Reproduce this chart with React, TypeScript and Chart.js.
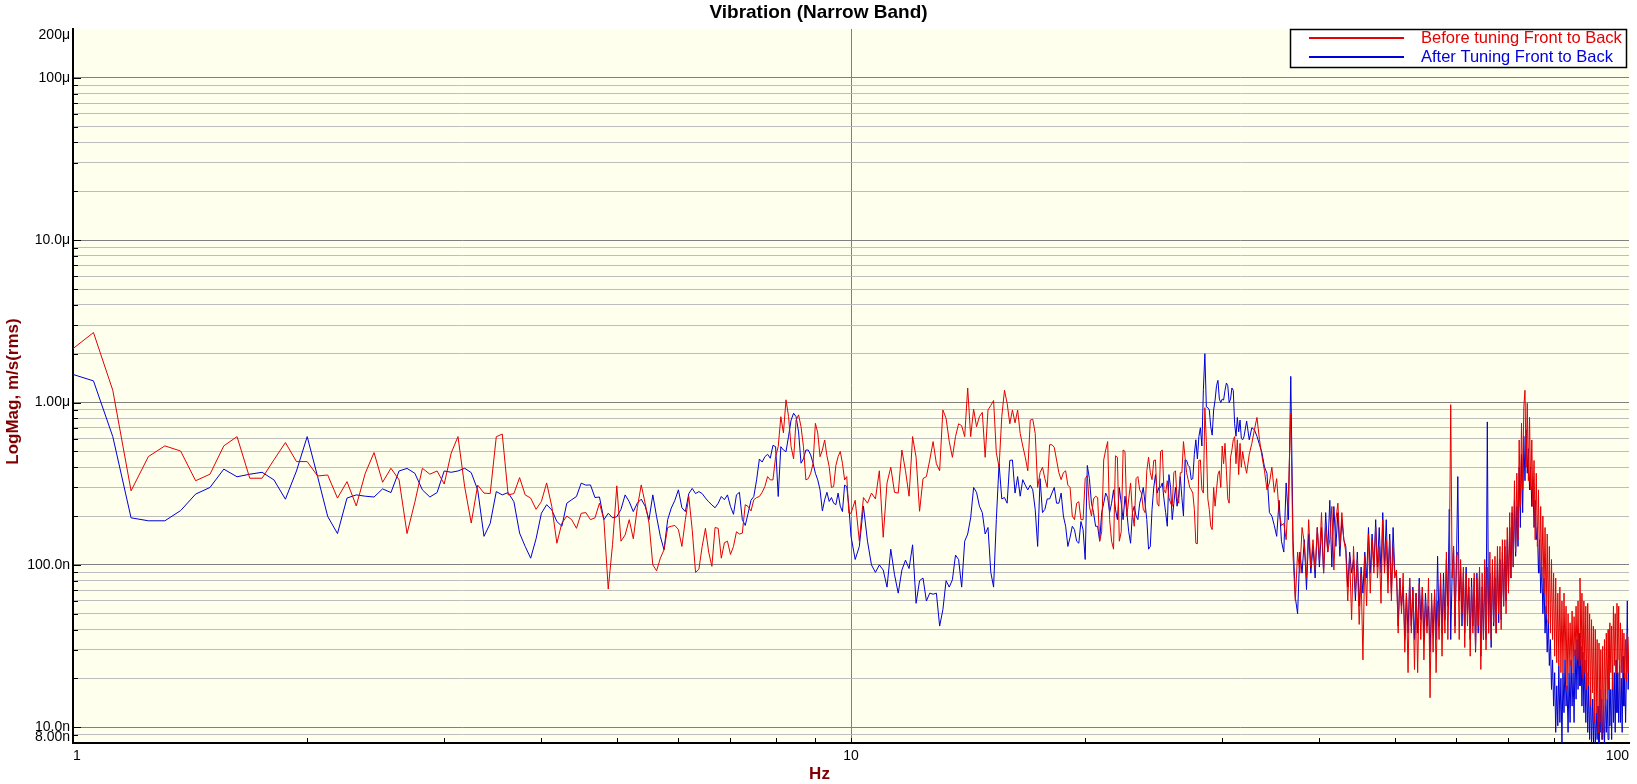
import React, { useEffect, useRef } from "react";
import { Chart, registerables } from "chart.js";

Chart.register(...registerables);

const FONT = '"Liberation Sans", Arial, Helvetica, sans-serif';

const TITLE = "Vibration (Narrow Band)";
const X_TITLE = "Hz";
const Y_TITLE = "LogMag, m/s(rms)";
const seriesNames = ["Before tuning Front to Back", "After Tuning Front to Back"];
const seriesColors = ["#E60000", "#0000D8"];

// tick labels (values in µm/s)
const xTickValues = [1, 10, 100];
const xTickLabels = ["1", "10", "100"];
const yTickValues = [200, 100, 10, 1, 0.1, 0.01, 0.008];
const yTickLabels = ["200μ", "100μ", "10.0μ", "1.00μ", "100.0n", "10.0n", "8.00n"];

// frequencies (Hz)
const freqA = [
  1, 1.0625, 1.125, 1.1875, 1.25, 1.3125, 1.375, 1.4375, 1.5, 1.5625,
  1.625, 1.6875, 1.75, 1.8125, 1.875, 1.9375, 2, 2.0625, 2.125, 2.1875,
  2.25, 2.3125, 2.375, 2.4375, 2.5, 2.5625, 2.625, 2.6875, 2.75, 2.8125,
  2.875, 2.9375, 3, 3.0625, 3.125, 3.1875, 3.25,
];
const freqB = [
  3.3125, 3.375, 3.4375, 3.5, 3.5625, 3.625, 3.6875, 3.75,
  3.8125, 3.875, 3.9375, 4, 4.0625, 4.125, 4.1875, 4.25,
  4.3125, 4.375, 4.4375, 4.5, 4.5625, 4.625, 4.6875, 4.75,
  4.8125, 4.875, 4.9375, 5, 5.0625, 5.125, 5.1875, 5.25,
  5.3125, 5.375, 5.4375, 5.5, 5.5625, 5.625, 5.6875, 5.75,
  5.8125, 5.875, 5.9375, 6, 6.0625, 6.125, 6.1875, 6.25,
  6.3125, 6.375, 6.4375, 6.5, 6.5625, 6.625, 6.6875, 6.75,
  6.8125, 6.875, 6.9375, 7, 7.0625, 7.125, 7.1875, 7.25,
  7.3125, 7.375, 7.4375, 7.5, 7.5625, 7.625, 7.6875, 7.75,
  7.8125, 7.875, 7.9375, 8, 8.0625, 8.125, 8.1875, 8.25,
  8.3125, 8.375, 8.4375, 8.5, 8.5625, 8.625, 8.6875, 8.75,
  8.8125, 8.875, 8.9375, 9, 9.0625, 9.125, 9.1875, 9.25,
  9.3125, 9.375, 9.4375, 9.5, 9.5625, 9.625, 9.6875, 9.75,
  9.8125, 9.875, 9.9375, 10,
];
const freqC = [
  10.125, 10.25, 10.375, 10.5, 10.625, 10.75, 10.875, 11,
  11.125, 11.25, 11.375, 11.5, 11.625, 11.75, 11.875, 12,
  12.125, 12.25, 12.375, 12.5, 12.625, 12.75, 12.875, 13,
  13.125, 13.25, 13.375, 13.5, 13.625, 13.75, 13.875, 14,
  14.125, 14.25, 14.375, 14.5, 14.625, 14.75, 14.875, 15,
  15.125, 15.25, 15.375, 15.5, 15.625, 15.75, 15.875, 16,
  16.125, 16.25, 16.375, 16.5, 16.625, 16.75, 16.875, 17,
  17.125, 17.25, 17.375, 17.5, 17.625, 17.75, 17.875, 18,
  18.125, 18.25, 18.375, 18.5, 18.625, 18.75, 18.875, 19,
  19.125, 19.25, 19.375, 19.5, 19.625, 19.75, 19.875, 20,
  20.125, 20.25, 20.375, 20.5, 20.625, 20.75, 20.875, 21,
  21.125, 21.25, 21.375, 21.5, 21.625, 21.75, 21.875, 22,
  22.125, 22.25, 22.375, 22.5, 22.625, 22.75, 22.875, 23,
  23.125, 23.25, 23.375, 23.5, 23.625, 23.75, 23.875, 24,
  24.125, 24.25, 24.375, 24.5, 24.625, 24.75, 24.875, 25,
  25.125, 25.25, 25.375, 25.5, 25.625, 25.75, 25.875, 26,
  26.125, 26.25, 26.375, 26.5, 26.625, 26.75, 26.875, 27,
  27.125, 27.25, 27.375, 27.5, 27.625, 27.75, 27.875, 28,
  28.125, 28.25, 28.375, 28.5, 28.625, 28.75, 28.875, 29,
  29.125, 29.25, 29.375, 29.5, 29.625, 29.75, 29.875, 30,
  30.125, 30.25, 30.375, 30.5, 30.625, 30.75, 30.875, 31,
  31.125, 31.25, 31.375, 31.5, 31.625, 31.75, 31.875, 32,
];
const freqD = [
  32.25, 32.5, 32.75, 33, 33.25, 33.5, 33.75, 34,
  34.25, 34.5, 34.75, 35, 35.25, 35.5, 35.75, 36,
  36.25, 36.5, 36.75, 37, 37.25, 37.5, 37.75, 38,
  38.25, 38.5, 38.75, 39, 39.25, 39.5, 39.75, 40,
  40.25, 40.5, 40.75, 41, 41.25, 41.5, 41.75, 42,
  42.25, 42.5, 42.75, 43, 43.25, 43.5, 43.75, 44,
  44.25, 44.5, 44.75, 45, 45.25, 45.5, 45.75, 46,
  46.25, 46.5, 46.75, 47, 47.25, 47.5, 47.75, 48,
  48.25, 48.5, 48.75, 49, 49.25, 49.5, 49.75, 50,
  50.25, 50.5, 50.75, 51, 51.25, 51.5, 51.75, 52,
  52.25, 52.5, 52.75, 53, 53.25, 53.5, 53.75, 54,
  54.25, 54.5, 54.75, 55, 55.25, 55.5, 55.75, 56,
  56.25, 56.5, 56.75, 57, 57.25, 57.5, 57.75, 58,
  58.25, 58.5, 58.75, 59, 59.25, 59.5, 59.75, 60,
  60.25, 60.5, 60.75, 61, 61.25, 61.5, 61.75, 62,
  62.25, 62.5, 62.75, 63, 63.25, 63.5, 63.75, 64,
  64.25, 64.5, 64.75, 65, 65.25, 65.5, 65.75, 66,
  66.25, 66.5, 66.75, 67, 67.25, 67.5, 67.75, 68,
  68.25, 68.5, 68.75, 69, 69.25, 69.5, 69.75, 70,
  70.25, 70.5, 70.75, 71, 71.25, 71.5, 71.75, 72,
  72.25, 72.5, 72.75, 73, 73.25, 73.5, 73.75, 74,
  74.25, 74.5, 74.75, 75, 75.25, 75.5, 75.75, 76,
  76.25, 76.5, 76.75, 77, 77.25, 77.5, 77.75, 78,
  78.25, 78.5, 78.75, 79, 79.25, 79.5, 79.75, 80,
  80.25, 80.5, 80.75, 81, 81.25, 81.5, 81.75, 82,
  82.25, 82.5, 82.75, 83, 83.25, 83.5, 83.75, 84,
  84.25, 84.5, 84.75, 85, 85.25, 85.5, 85.75, 86,
  86.25, 86.5, 86.75, 87, 87.25, 87.5, 87.75, 88,
  88.25, 88.5, 88.75, 89, 89.25, 89.5, 89.75, 90,
  90.25, 90.5, 90.75, 91, 91.25, 91.5, 91.75, 92,
  92.25, 92.5, 92.75, 93, 93.25, 93.5, 93.75, 94,
  94.25, 94.5, 94.75, 95, 95.25, 95.5, 95.75, 96,
  96.25, 96.5, 96.75, 97, 97.25, 97.5, 97.75, 98,
  98.25, 98.5, 98.75, 99, 99.25, 99.5, 99.75, 100,
];

// "Before tuning" magnitudes (µm/s rms)
const redA = [
  2.15, 2.7, 1.19, 0.286, 0.465, 0.541, 0.503, 0.33, 0.362, 0.541,
  0.617, 0.342, 0.342, 0.444, 0.567, 0.433, 0.433, 0.353, 0.358, 0.258,
  0.326, 0.231, 0.367, 0.492, 0.323, 0.394, 0.334, 0.156, 0.243, 0.394,
  0.362, 0.379, 0.315, 0.488, 0.617, 0.303, 0.181,
];
const redB = [
  0.31, 0.277, 0.275, 0.616, 0.64, 0.27, 0.275, 0.345,
  0.27, 0.258, 0.22, 0.246, 0.32, 0.229, 0.136, 0.181,
  0.2, 0.19, 0.168, 0.208, 0.21, 0.19, 0.195, 0.24,
  0.19, 0.071, 0.134, 0.307, 0.14, 0.153, 0.19, 0.145,
  0.225, 0.311, 0.24, 0.181, 0.1, 0.092, 0.11, 0.124,
  0.17, 0.173, 0.175, 0.165, 0.13, 0.19, 0.264, 0.165,
  0.09, 0.094, 0.13, 0.168, 0.12, 0.098, 0.17, 0.168,
  0.11, 0.137, 0.14, 0.116, 0.13, 0.16, 0.155, 0.157,
  0.235, 0.229, 0.215, 0.252, 0.26, 0.264, 0.28, 0.304,
  0.35, 0.334, 0.334, 0.464, 0.535, 0.818, 0.65, 1.04,
  0.82, 0.535, 0.45, 0.78, 0.84, 0.71, 0.535, 0.334,
  0.34, 0.367, 0.42, 0.745, 0.65, 0.464, 0.51, 0.588,
  0.47, 0.403, 0.3, 0.304, 0.41, 0.464, 0.5, 0.423,
  0.334, 0.35, 0.208, 0.208,
];
const redC = [
  0.25, 0.14, 0.26, 0.24, 0.277, 0.255, 0.38, 0.148,
  0.32, 0.4, 0.28, 0.277, 0.51, 0.38, 0.265, 0.617,
  0.46, 0.214, 0.34, 0.35, 0.443, 0.575, 0.42, 0.38,
  0.9, 0.8, 0.575, 0.46, 0.617, 0.74, 0.72, 0.617,
  1.23, 0.617, 0.91, 0.71, 0.82, 0.87, 0.46, 0.9,
  0.96, 1.03, 0.49, 0.4, 0.82, 1.19, 0.99, 0.74,
  0.9, 0.75, 0.9, 0.645, 0.54, 0.46, 0.38, 0.78,
  0.79, 0.645, 0.3, 0.37, 0.4, 0.34, 0.3, 0.55,
  0.55, 0.53, 0.443, 0.37, 0.335, 0.37, 0.38, 0.31,
  0.3, 0.2, 0.19, 0.24, 0.245, 0.19, 0.19, 0.34,
  0.355, 0.23, 0.2, 0.255, 0.265, 0.26, 0.14, 0.16,
  0.443, 0.51, 0.575, 0.19, 0.14, 0.125, 0.47, 0.46,
  0.14, 0.16, 0.51, 0.5, 0.2, 0.255, 0.32, 0.209,
  0.173, 0.34, 0.35, 0.29, 0.277, 0.22, 0.21, 0.38,
  0.46, 0.37, 0.335, 0.44, 0.443, 0.24, 0.23, 0.5,
  0.51, 0.29, 0.277, 0.33, 0.26, 0.24, 0.23, 0.37,
  0.38, 0.255, 0.24, 0.37, 0.37, 0.575, 0.46, 0.37,
  0.335, 0.3, 0.29, 0.277, 0.22, 0.136, 0.135, 0.44,
  0.443, 0.29, 0.277, 0.93, 0.575, 0.255, 0.22, 0.173,
  0.165, 0.3, 0.23, 0.29, 0.36, 0.38, 0.3, 0.54,
  0.42, 0.561, 0.38, 0.255, 0.24, 0.46, 0.51, 0.59,
  0.617, 0.42, 0.59, 0.36, 0.561, 0.4, 0.5, 0.44,
];
const redD = [
  0.367, 0.48, 0.56, 0.68, 0.81, 0.59, 0.465, 0.38,
  0.29, 0.32, 0.4, 0.28, 0.34, 0.21, 0.175, 0.18,
  0.143, 0.28, 0.85, 0.113, 0.06, 0.12, 0.089, 0.17,
  0.137, 0.083, 0.19, 0.097, 0.143, 0.093, 0.17, 0.108,
  0.21, 0.089, 0.17, 0.12, 0.143, 0.229, 0.093, 0.19,
  0.24, 0.13, 0.21, 0.143, 0.12, 0.06, 0.113, 0.046,
  0.13, 0.067, 0.108, 0.043, 0.089, 0.026, 0.113, 0.056,
  0.155, 0.067, 0.143, 0.089, 0.17, 0.083, 0.13, 0.058,
  0.19, 0.089, 0.143, 0.067, 0.143, 0.06, 0.13, 0.083,
  0.093, 0.038, 0.083, 0.05, 0.089, 0.029, 0.067, 0.0217,
  0.083, 0.038, 0.0705, 0.0227, 0.067, 0.0217, 0.077, 0.0347,
  0.073, 0.026, 0.06, 0.038, 0.083, 0.0152, 0.067, 0.029,
  0.0705, 0.0217, 0.06, 0.0347, 0.089, 0.0274, 0.073, 0.038,
  0.12, 0.0347, 0.097, 0.97, 0.083, 0.13, 0.038, 0.113,
  0.12, 0.0347, 0.108, 0.05, 0.097, 0.031, 0.089, 0.042,
  0.083, 0.0274, 0.073, 0.038, 0.089, 0.03, 0.083, 0.042,
  0.097, 0.0227, 0.089, 0.0347, 0.108, 0.03, 0.097, 0.038,
  0.12, 0.0347, 0.108, 0.044, 0.113, 0.038, 0.13, 0.05,
  0.13, 0.04, 0.143, 0.0557, 0.143, 0.05, 0.17, 0.067,
  0.21, 0.083, 0.229, 0.097, 0.33, 0.12, 0.367, 0.143,
  0.588, 0.229, 0.745, 0.29, 0.94, 1.19, 0.4, 0.99,
  0.33, 0.81, 0.29, 0.588, 0.229, 0.44, 0.143, 0.367,
  0.13, 0.29, 0.089, 0.229, 0.083, 0.2, 0.067, 0.17,
  0.05, 0.155, 0.044, 0.13, 0.038, 0.108, 0.0347, 0.089,
  0.0274, 0.083, 0.025, 0.067, 0.024, 0.073, 0.0217, 0.06,
  0.0217, 0.067, 0.026, 0.0557, 0.0171, 0.05, 0.0217, 0.044,
  0.024, 0.052, 0.0217, 0.048, 0.0274, 0.0557, 0.026, 0.06,
  0.024, 0.083, 0.026, 0.067, 0.02, 0.06, 0.0217, 0.0557,
  0.0171, 0.058, 0.018, 0.05, 0.0135, 0.046, 0.0163, 0.042,
  0.0107, 0.04, 0.0123, 0.0347, 0.0093, 0.033, 0.0107, 0.03,
  0.0084, 0.0315, 0.0093, 0.0347, 0.0135, 0.038, 0.0149, 0.04,
  0.0171, 0.044, 0.0217, 0.042, 0.0171, 0.0557, 0.024, 0.05,
  0.0217, 0.058, 0.026, 0.0557, 0.0163, 0.044, 0.0217, 0.04,
  0.0217, 0.038, 0.02, 0.0347, 0.019, 0.038, 0.0217, 0.036,
];

// "After tuning" magnitudes (µm/s rms)
const blueA = [
  1.49, 1.36, 0.617, 0.195, 0.187, 0.187, 0.216, 0.273, 0.3, 0.389,
  0.349, 0.362, 0.372, 0.334, 0.254, 0.379, 0.617, 0.35, 0.199, 0.156,
  0.258, 0.27, 0.265, 0.262, 0.294, 0.279, 0.379, 0.393, 0.367, 0.29,
  0.262, 0.279, 0.379, 0.372, 0.379, 0.394, 0.37,
];
const blueB = [
  0.29, 0.15, 0.18, 0.283, 0.27, 0.279, 0.245, 0.157,
  0.13, 0.11, 0.145, 0.208, 0.235, 0.218, 0.185, 0.173,
  0.24, 0.252, 0.264, 0.319, 0.31, 0.311, 0.26, 0.262,
  0.19, 0.208, 0.195, 0.198, 0.22, 0.27, 0.245, 0.213,
  0.24, 0.254, 0.23, 0.19, 0.27, 0.198, 0.15, 0.124,
  0.19, 0.224, 0.25, 0.29, 0.225, 0.213, 0.275, 0.296,
  0.275, 0.283, 0.275, 0.258, 0.245, 0.234, 0.225, 0.24,
  0.264, 0.252, 0.27, 0.229, 0.205, 0.27, 0.28, 0.19,
  0.175, 0.208, 0.25, 0.264, 0.334, 0.449, 0.43, 0.464,
  0.48, 0.454, 0.545, 0.535, 0.264, 0.535, 0.51, 0.498,
  0.62, 0.78, 0.86, 0.818, 0.66, 0.423, 0.45, 0.51,
  0.51, 0.476, 0.423, 0.367, 0.334, 0.29, 0.215, 0.252,
  0.28, 0.246, 0.26, 0.24, 0.235, 0.277, 0.23, 0.213,
  0.31, 0.304, 0.23, 0.15,
];
const blueC = [
  0.108, 0.13, 0.23, 0.14, 0.1, 0.09, 0.1, 0.093,
  0.073, 0.125, 0.087, 0.067, 0.093, 0.107, 0.095, 0.133,
  0.058, 0.08, 0.083, 0.06, 0.067, 0.066, 0.067, 0.042,
  0.053, 0.08, 0.073, 0.081, 0.115, 0.108, 0.073, 0.14,
  0.155, 0.195, 0.3, 0.28, 0.23, 0.21, 0.155, 0.17,
  0.09, 0.073, 0.19, 0.42, 0.255, 0.26, 0.24, 0.44,
  0.443, 0.277, 0.35, 0.265, 0.335, 0.31, 0.29, 0.31,
  0.29, 0.219, 0.13, 0.34, 0.21, 0.22, 0.255, 0.255,
  0.277, 0.3, 0.24, 0.24, 0.277, 0.2, 0.173, 0.13,
  0.148, 0.173, 0.165, 0.14, 0.136, 0.185, 0.165, 0.108,
  0.41, 0.34, 0.24, 0.21, 0.173, 0.173, 0.14, 0.21,
  0.24, 0.277, 0.26, 0.21, 0.24, 0.29, 0.22, 0.19,
  0.3, 0.24, 0.19, 0.265, 0.21, 0.16, 0.136, 0.21,
  0.23, 0.2, 0.19, 0.24, 0.265, 0.3, 0.24, 0.19,
  0.125, 0.13, 0.22, 0.3, 0.36, 0.277, 0.3, 0.3,
  0.32, 0.255, 0.21, 0.173, 0.36, 0.3, 0.19, 0.24,
  0.3, 0.23, 0.27, 0.35, 0.26, 0.2, 0.443, 0.44,
  0.41, 0.4, 0.335, 0.34, 0.48, 0.59, 0.45, 0.617,
  0.7, 0.54, 1.2, 2.0, 0.94, 0.93, 0.9, 0.71,
  0.63, 0.9, 1.036, 1.27, 1.37, 1.05, 1.0, 1.05,
  1.036, 1.19, 1.32, 1.27, 1.0, 1.05, 1.23, 1.19,
  0.74, 0.62, 0.81, 0.66, 0.78, 0.6, 0.59, 0.617,
];
const blueD = [
  0.77, 0.59, 0.7, 0.68, 0.62, 0.55, 0.49, 0.4,
  0.367, 0.21, 0.2, 0.175, 0.15, 0.25, 0.14, 0.12,
  0.32, 0.19, 1.45, 0.143, 0.063, 0.05, 0.12, 0.089,
  0.143, 0.0705, 0.155, 0.089, 0.13, 0.083, 0.17, 0.097,
  0.17, 0.089, 0.21, 0.12, 0.25, 0.097, 0.229, 0.13,
  0.21, 0.113, 0.19, 0.143, 0.13, 0.073, 0.12, 0.089,
  0.108, 0.06, 0.12, 0.0557, 0.097, 0.067, 0.12, 0.083,
  0.17, 0.089, 0.155, 0.097, 0.19, 0.097, 0.17, 0.089,
  0.21, 0.097, 0.19, 0.083, 0.155, 0.067, 0.17, 0.089,
  0.089, 0.042, 0.083, 0.0557, 0.073, 0.0347, 0.067, 0.038,
  0.083, 0.042, 0.073, 0.0347, 0.067, 0.038, 0.083, 0.046,
  0.073, 0.0347, 0.067, 0.042, 0.0557, 0.029, 0.06, 0.038,
  0.067, 0.0347, 0.113, 0.042, 0.083, 0.038, 0.089, 0.046,
  0.108, 0.0557, 0.22, 0.0347, 0.089, 0.13, 0.042, 0.097,
  0.35, 0.06, 0.097, 0.042, 0.089, 0.038, 0.097, 0.05,
  0.073, 0.0347, 0.083, 0.042, 0.083, 0.029, 0.089, 0.038,
  0.089, 0.0274, 0.073, 0.0347, 0.097, 0.0347, 0.76, 0.038,
  0.089, 0.031, 0.097, 0.042, 0.083, 0.038, 0.108, 0.044,
  0.108, 0.046, 0.12, 0.0557, 0.13, 0.06, 0.143, 0.073,
  0.17, 0.083, 0.21, 0.097, 0.25, 0.113, 0.229, 0.13,
  0.4, 0.17, 0.48, 0.21, 0.62, 0.33, 0.68, 0.367,
  0.52, 0.29, 0.4, 0.229, 0.33, 0.17, 0.25, 0.143,
  0.17, 0.089, 0.143, 0.067, 0.097, 0.05, 0.083, 0.038,
  0.0557, 0.029, 0.046, 0.024, 0.0347, 0.0171, 0.026, 0.0135,
  0.0217, 0.0093, 0.018, 0.0102, 0.024, 0.0107, 0.02, 0.0078,
  0.0217, 0.0123, 0.026, 0.0135, 0.018, 0.0093, 0.0217, 0.0107,
  0.026, 0.0135, 0.0217, 0.0107, 0.03, 0.0149, 0.0347, 0.0171,
  0.038, 0.018, 0.0315, 0.0135, 0.029, 0.0123, 0.026, 0.0107,
  0.0217, 0.0093, 0.018, 0.0084, 0.0171, 0.0077, 0.0149, 0.0084,
  0.0149, 0.0074, 0.0123, 0.0084, 0.0135, 0.0077, 0.0171, 0.0093,
  0.0149, 0.0084, 0.0135, 0.0074, 0.0171, 0.0093, 0.0149, 0.0084,
  0.02, 0.0102, 0.0171, 0.0084, 0.024, 0.0107, 0.0217, 0.0093,
  0.026, 0.0123, 0.0217, 0.0107, 0.024, 0.0107, 0.02, 0.0093,
  0.0274, 0.0135, 0.0217, 0.0107, 0.0217, 0.06, 0.0171, 0.0274,
];

const freqs = [...freqA, ...freqB, ...freqC, ...freqD];
const redValues = [...redA, ...redB, ...redC, ...redD];
const blueValues = [...blueA, ...blueB, ...blueC, ...blueD];

// log grid positions (1..9 per decade)
function decadeGrid(min: number, max: number): number[] {
  const out: number[] = [];
  for (let e = -4; e <= 3; e++) {
    for (let m = 1; m <= 9; m++) {
      const v = Number((m * Math.pow(10, e)).toPrecision(4));
      if (v >= min * 0.9999 && v <= max * 1.0001) out.push(v);
    }
  }
  return out;
}
const xGrid = decadeGrid(1, 100);
const yGrid = decadeGrid(0.008, 200);

const near = (a: number, b: number) => Math.abs(a - b) <= Math.abs(b) * 1e-6;
const isDecade = (v: number) => {
  const l = Math.log10(v);
  return Math.abs(l - Math.round(l)) < 1e-6;
};

const decorPlugin = {
  id: "decor",
  beforeDraw(chart: any) {
    const { ctx, chartArea: a } = chart;
    ctx.save();
    ctx.fillStyle = "#FFFFFF";
    ctx.fillRect(0, 0, chart.width, chart.height);
    ctx.fillStyle = "#FFFFEE";
    ctx.fillRect(a.left, a.top, a.right - a.left, a.bottom - a.top);
    ctx.restore();
  },
  afterDraw(chart: any) {
    const { ctx, chartArea: a } = chart;
    const xs = chart.scales.x;
    const ys = chart.scales.y;
    ctx.save();
    // inward tick marks
    ctx.strokeStyle = "#000000";
    ctx.lineWidth = 1;
    ctx.beginPath();
    xs.ticks.forEach((t: any) => {
      if (near(t.value, 1) || near(t.value, 100)) return;
      const px = Math.round(xs.getPixelForValue(t.value)) + 0.5;
      ctx.moveTo(px, a.bottom);
      ctx.lineTo(px, a.bottom - 5);
    });
    ys.ticks.forEach((t: any) => {
      if (near(t.value, 200) || near(t.value, 0.008)) return;
      const py = Math.round(ys.getPixelForValue(t.value)) + 0.5;
      ctx.moveTo(a.left, py);
      ctx.lineTo(a.left + (isDecade(t.value) ? 8 : 5), py);
    });
    ctx.stroke();

    // title
    ctx.fillStyle = "#000000";
    ctx.font = `bold 19px ${FONT}`;
    ctx.textAlign = "center";
    ctx.textBaseline = "alphabetic";
    ctx.fillText(TITLE, 818.5, 18);

    // axis titles
    ctx.fillStyle = "#800000";
    ctx.font = `bold 17px ${FONT}`;
    ctx.fillText(X_TITLE, 819.5, 778.5);
    ctx.save();
    ctx.translate(17.5, 391.5);
    ctx.rotate(-Math.PI / 2);
    ctx.fillText(Y_TITLE, 0, 0);
    ctx.restore();

    // legend
    const bx = 1290.5, by = 29.5, bw = 336, bh = 38;
    ctx.fillStyle = "#FFFFFF";
    ctx.fillRect(bx, by, bw, bh);
    ctx.strokeStyle = "#000000";
    ctx.lineWidth = 1.5;
    ctx.strokeRect(bx, by, bw, bh);
    const rows = [38, 57];
    ctx.font = `16.5px ${FONT}`;
    ctx.textAlign = "left";
    ctx.textBaseline = "middle";
    seriesNames.forEach((name, i) => {
      ctx.strokeStyle = seriesColors[i];
      ctx.lineWidth = 2;
      ctx.beginPath();
      ctx.moveTo(1309, rows[i]);
      ctx.lineTo(1404, rows[i]);
      ctx.stroke();
      ctx.fillStyle = seriesColors[i];
      ctx.fillText(name, 1421, rows[i] + 0.5);
    });
    ctx.restore();
  },
};

export default function App() {
  const ref = useRef<HTMLCanvasElement>(null);

  useEffect(() => {
    document.body.style.margin = "0";
    const canvas = ref.current;
    if (!canvas) return;
    const chart = new Chart(canvas, {
      type: "line",
      data: {
        datasets: [
          {
            label: seriesNames[0],
            data: freqs.map((f, i) => ({ x: f, y: redValues[i] })),
            borderColor: seriesColors[0],
            borderWidth: 1,
            pointRadius: 0,
            tension: 0,
            fill: false,
          },
          {
            label: seriesNames[1],
            data: freqs.map((f, i) => ({ x: f, y: blueValues[i] })),
            borderColor: seriesColors[1],
            borderWidth: 1,
            pointRadius: 0,
            tension: 0,
            fill: false,
          },
        ],
      },
      options: {
        responsive: false,
        animation: false,
        events: [],
        layout: { padding: { top: 29, right: 8, left: 0, bottom: 0 } },
        plugins: {
          legend: { display: false },
          title: { display: false },
          tooltip: { enabled: false },
        },
        scales: {
          x: {
            type: "logarithmic",
            position: "bottom",
            min: 1,
            max: 100,
            afterBuildTicks: (scale: any) => {
              scale.ticks = xGrid.map((v) => ({ value: v }));
            },
            afterFit: (scale: any) => {
              scale.height = 41;
            },
            ticks: {
              autoSkip: false,
              maxRotation: 0,
              minRotation: 0,
              align: "inner",
              padding: 5,
              color: "#000000",
              font: { family: FONT, size: 14 },
              callback: (value: any) => {
                const j = xTickValues.findIndex((t) => near(Number(value), t));
                return j >= 0 ? xTickLabels[j] : "";
              },
            },
            grid: {
              drawTicks: false,
              lineWidth: 1,
              color: (c: any) =>
                c.tick && near(c.tick.value, 10) ? "#808080" : "rgba(0,0,0,0)",
            },
            border: { display: true, color: "#000000", width: 2 },
          },
          y: {
            type: "logarithmic",
            position: "left",
            min: 0.008,
            max: 200,
            afterBuildTicks: (scale: any) => {
              scale.ticks = yGrid.map((v) => ({ value: v }));
            },
            afterFit: (scale: any) => {
              scale.width = 73;
            },
            ticks: {
              autoSkip: false,
              padding: 3,
              color: "#000000",
              font: { family: FONT, size: 14, lineHeight: 0.9 },
              callback: (value: any) => {
                const v = Number(value);
                const j = yTickValues.findIndex((t) => near(v, t));
                if (j < 0) return "";
                if (j === 0) return ["", yTickLabels[j]];
                if (j === yTickValues.length - 1) return [yTickLabels[j], ""];
                return yTickLabels[j];
              },
            },
            grid: {
              drawTicks: false,
              lineWidth: 1,
              color: (c: any) => {
                if (!c.tick) return "rgba(0,0,0,0)";
                const v = c.tick.value;
                if (near(v, 200)) return "rgba(0,0,0,0)";
                return isDecade(v) ? "#808080" : "#BEBEBE";
              },
            },
            border: { display: true, color: "#000000", width: 2 },
          },
        },
      },
      plugins: [decorPlugin],
    } as any);
    return () => chart.destroy();
  }, []);

  return (
    <div style={{ position: "relative", width: 1637, height: 784, background: "#FFFFFF" }}>
      <canvas ref={ref} width={1637} height={784} style={{ display: "block" }} />
    </div>
  );
}
